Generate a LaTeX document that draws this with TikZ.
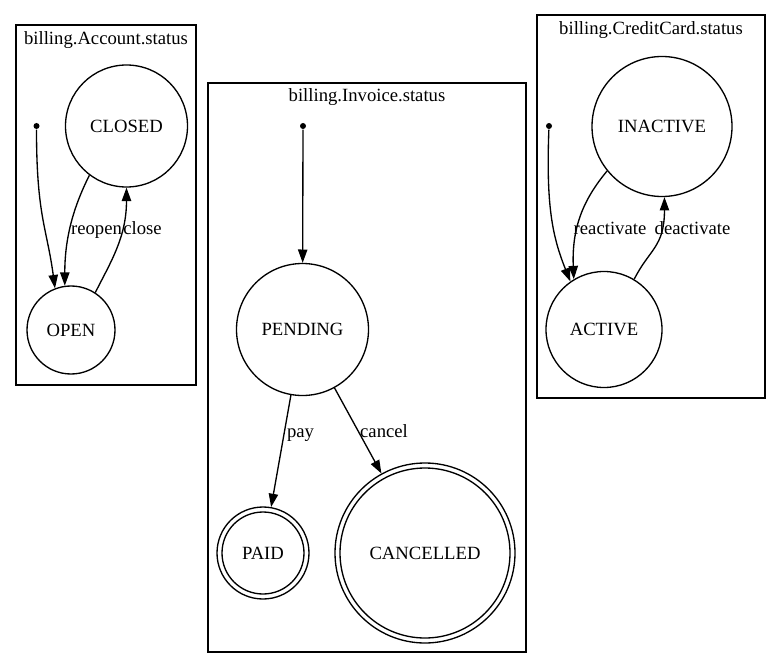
\documentclass[tikz,border=0pt]{standalone}
\usepackage{fontspec}
\setmainfont{Liberation Serif}
\usetikzlibrary{arrows.meta}
\begin{document}
\begin{tikzpicture}[x=0.75pt,y=0.75pt,line width=1pt,
  every node/.style={font=\fontsize{14}{16}\selectfont},
  cluster/.style={draw,line width=1pt},
  state/.style={draw,circle,inner sep=0pt,line width=1pt},
  initdot/.style={fill,circle,inner sep=0pt,minimum size=4.5pt},
  edge/.style={line width=1pt,-{Triangle[length=10pt,width=7pt]}},
  lbl/.style={anchor=base,inner sep=0pt}]
\useasboundingbox (0,0) rectangle (781,669);
% clusters
\draw[cluster] (16,284) rectangle (196,644);
\node[lbl] (tA) at (106,624) {billing.Account.status};
\draw[cluster] (208,17) rectangle (526,586);
\node[lbl] (tI) at (367,567) {billing.Invoice.status};
\draw[cluster] (537,271) rectangle (765,654);
\node[lbl] (tC) at (651,634) {billing.CreditCard.status};
% Account
\node[initdot] (dA) at (36.5,543) {};
\node[state,minimum size=91.5pt] (closed) at (126.5,543) {CLOSED};
\node[state,minimum size=66pt] (open) at (71,339) {OPEN};
\draw[edge] (dA) .. controls +(0,-90) and +(-8,60) .. (open.111);
\draw[edge] (closed.233) .. controls +(-15,-30) and +(0,50) .. (open.98);
\draw[edge] (open.57) .. controls +(15,30) and +(0,-50) .. (closed.270);
\node[lbl] (lreopen) at (96.5,435) {reopen};
\node[lbl] (lclose) at (142.5,435) {close};
% Invoice
\node[initdot] (dI) at (303,543) {};
\node[state,minimum size=99pt] (pending) at (302.5,339.5) {PENDING};
\node[state,minimum size=69pt] (paid) at (263,116) {PAID};
\node[state,minimum size=61.5pt] (paidin) at (263,116) {};
\node[state,minimum size=135pt] (cancelled) at (425,116) {CANCELLED};
\node[state,minimum size=127.5pt] (cancelledin) at (425,116) {};
\draw[edge] (dI) -- (pending);
\draw[edge] (pending) -- (paid);
\draw[edge] (pending) -- (cancelled);
\node[lbl] (lpay) at (300.5,232) {pay};
\node[lbl] (lcancel) at (384,232) {cancel};
% CreditCard
\node[initdot] (dC) at (549,543) {};
\node[state,minimum size=105pt] (inactive) at (662,542.5) {INACTIVE};
\node[state,minimum size=87pt] (active) at (604,339.5) {ACTIVE};
\draw[edge] (dC) .. controls +(-3,-80) and +(-18,45) .. (active.125);
\draw[edge] (inactive.219) .. controls +(-25,-30) and +(-2,50) .. (active.121);
\draw[edge] (active.59) .. controls +(15,30) and +(0,-50) .. (inactive.272);
\node[lbl] (lreact) at (610,435) {reactivate};
\node[lbl] (ldeact) at (692.5,435) {deactivate};
\end{tikzpicture}
\end{document}
